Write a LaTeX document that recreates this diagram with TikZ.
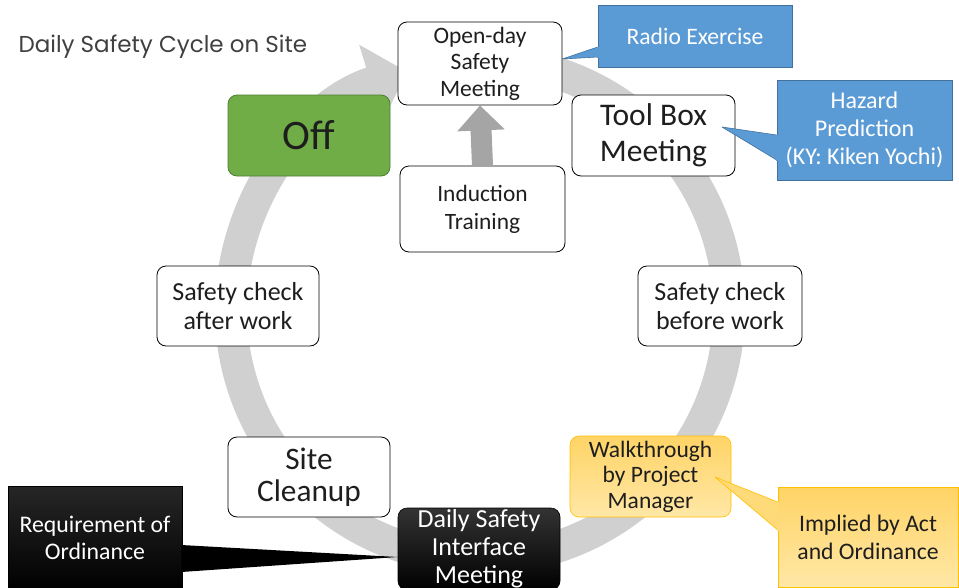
\documentclass[tikz,border=0pt]{standalone}
\usepackage{fontspec}
\setmainfont{Carlito}
\newfontfamily\titlefont{Poppins}
\usetikzlibrary{arrows.meta}

\definecolor{ringgray}{HTML}{D0D0D0}
\definecolor{arrowgray}{HTML}{A5A5A5}
\definecolor{calloutblue}{HTML}{5B9BD5}
\definecolor{calloutblueedge}{HTML}{41719C}
\definecolor{offgreen}{HTML}{70AD47}
\definecolor{offgreenedge}{HTML}{507E32}
\definecolor{goldtop}{HTML}{FFD466}
\definecolor{goldbottom}{HTML}{FFE7A6}
\definecolor{goldedge}{HTML}{FFC000}
\definecolor{inkdark}{HTML}{1E1E1E}
\definecolor{titlegray}{HTML}{404040}

\begin{document}
\begin{tikzpicture}[x=1pt,y=-1pt,
  cyclebox/.style={draw=black, fill=white, rounded corners=9pt, line width=0.8pt,
    align=center, inner sep=0pt, text=inkdark},
  bluebox/.style={draw=calloutblueedge, fill=calloutblue, line width=0.6pt,
    align=center, inner sep=0pt, text=white},
  bluetip/.style={fill=calloutblue, draw=calloutblueedge, line width=0.6pt, line join=round},
  goldbox/.style={draw=goldedge, line width=0.6pt, top color=goldtop, bottom color=goldbottom,
    align=center, inner sep=0pt, text=inkdark},
  goldtip/.style={fill=goldtop!70!goldbottom, draw=goldedge, line width=0.6pt, line join=round},
  blackbox/.style={draw=black, line width=0.6pt, top color=black!80, bottom color=black,
    align=center, inner sep=0pt, text=white},
]
\useasboundingbox (0,0) rectangle (959,587);

% circular flow of the daily cycle
\draw[ringgray, line width=32pt, -{Triangle[width=78pt,length=38pt]}]
  (480,310) ++(-85:249) arc[start angle=-85, end angle=253, radius=249];

% heading
\node[anchor=west, text=titlegray, font=\titlefont\fontsize{23}{26}\selectfont]
  (title) at (15,47) {Daily Safety Cycle on Site};

% steps of the cycle
\node[cyclebox, minimum width=164pt, minimum height=83pt, font=\fontsize{23.5}{26.5}\selectfont]
  (open) at (480,63.5) {Open-day\\Safety\\Meeting};
\node[cyclebox, minimum width=163pt, minimum height=81pt, font=\fontsize{31.5}{36}\selectfont]
  (toolbox) at (653.5,135.5) {Tool Box\\Meeting};
\node[cyclebox, minimum width=164pt, minimum height=80pt, font=\fontsize{26}{29}\selectfont]
  (before) at (720,306) {Safety check\\before work};
\node[goldbox, rounded corners=9pt, minimum width=161pt, minimum height=81pt,
  font=\fontsize{23.5}{25.5}\selectfont]
  (walk) at (650.5,476.5) {Walkthrough\\by Project\\Manager};
\node[blackbox, rounded corners=9pt, minimum width=162pt, minimum height=82pt,
  font=\fontsize{26}{28}\selectfont]
  (daily) at (479,549) {Daily Safety\\Interface\\Meeting};
\node[cyclebox, minimum width=162pt, minimum height=80pt, font=\fontsize{31.3}{32.5}\selectfont]
  (cleanup) at (309,477) {Site\\Cleanup};
\node[cyclebox, minimum width=162pt, minimum height=80pt, font=\fontsize{26}{29}\selectfont]
  (after) at (238,306) {Safety check\\after work};
\node[cyclebox, draw=offgreenedge, fill=offgreen, minimum width=162pt, minimum height=81pt,
  font=\fontsize{42}{46}\selectfont]
  (off) at (309,135.5) {Off};
\node[cyclebox, minimum width=165pt, minimum height=86pt, font=\fontsize{23.4}{28}\selectfont]
  (induction) at (482.5,209) {Induction\\Training};

% induction leads into the open-day meeting
\draw[arrowgray, line width=21pt, -{Triangle[width=46pt,length=25pt]}]
  (induction.north) -- (open.south);

% notes attached to the steps (offsets in picture units, y pointing down)
\node[bluebox, minimum width=194pt, minimum height=62pt, font=\fontsize{23.6}{26}\selectfont]
  (radio) at (695,36) {Radio Exercise};
\draw[bluetip] ([shift={(0,11)}]radio.west) -- (open.east |- 0,59) -- ([shift={(0,21)}]radio.west);
\fill[calloutblue] ([shift={(1,10.5)}]radio.west) -- ++(-2,0) -- ([shift={(-1,21.5)}]radio.west) -- ++(2,0) -- cycle;

\node[bluebox, minimum width=175pt, minimum height=100pt, font=\fontsize{24}{28}\selectfont]
  (hazard) at (864.5,130) {Hazard\\Prediction\\(KY: Kiken Yochi)};
\draw[bluetip] ([shift={(0,5)}]hazard.west) -- (722,127) -- ([shift={(0,30)}]hazard.west);
\fill[calloutblue] ([shift={(1,4.5)}]hazard.west) -- ++(-2,0) -- ([shift={(-1,30.5)}]hazard.west) -- ++(2,0) -- cycle;

\node[goldbox, minimum width=180pt, minimum height=100pt, font=\fontsize{23.7}{28}\selectfont]
  (implied) at (868,537) {Implied by Act\\and Ordinance};
\draw[goldtip] ([shift={(0,-35)}]implied.west) -- (715,477) -- ([shift={(0,-7)}]implied.west);
\fill[goldtop!70!goldbottom] ([shift={(1,-35.5)}]implied.west) -- ++(-2,0) -- ([shift={(-1,-6.5)}]implied.west) -- ++(2,0) -- cycle;

\node[blackbox, top color=black!85, minimum width=174pt, minimum height=104pt,
  font=\fontsize{23.8}{27}\selectfont]
  (req) at (95,538) {Requirement of\\Ordinance};
\fill[black] ([shift={(-1,7)}]req.east) -- (daily.west |- 0,557) -- ([shift={(-1,34)}]req.east) -- cycle;
\end{tikzpicture}
\end{document}
